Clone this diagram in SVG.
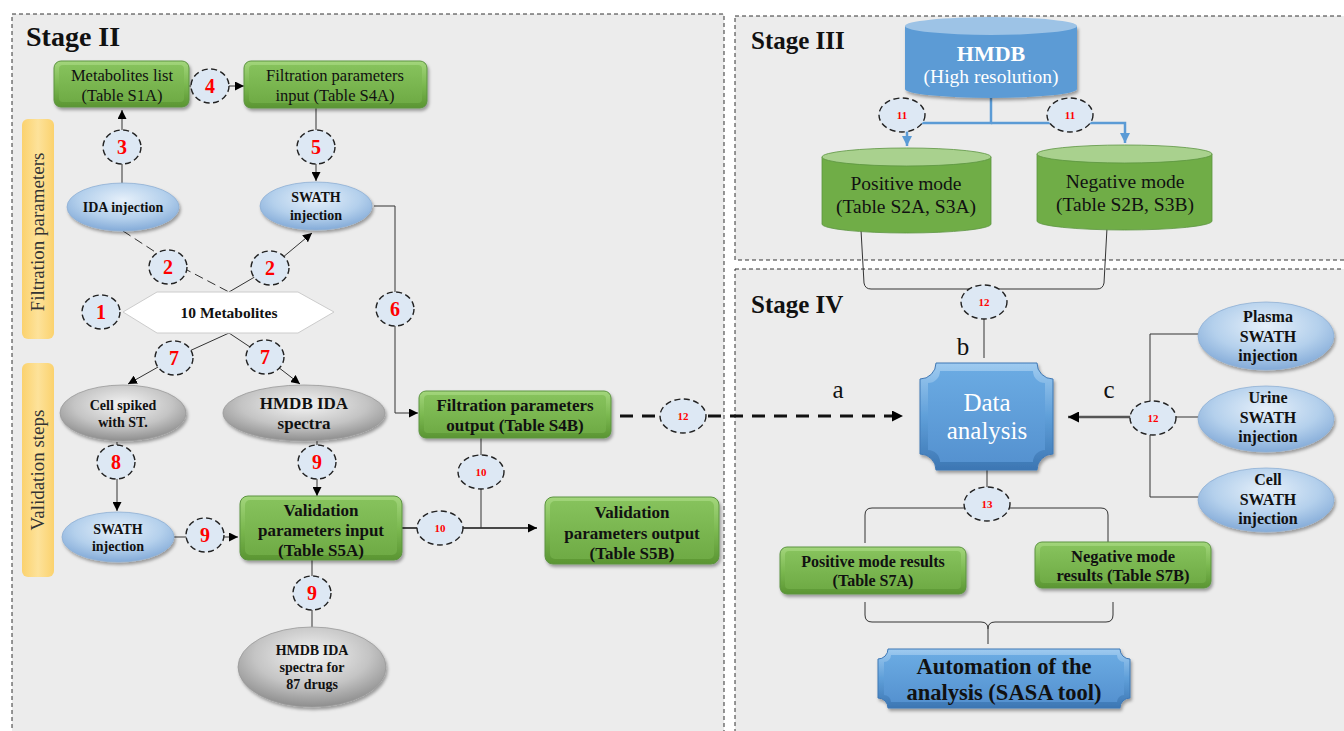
<svg xmlns="http://www.w3.org/2000/svg" width="1344" height="731" viewBox="0 0 1344 731" font-family="'Liberation Serif', serif">
<style>
.panel{fill:#ececec;stroke:#333;stroke-width:1;stroke-dasharray:4 3}
.title{font-family:"Liberation Serif",serif;font-weight:bold;font-size:28px;fill:#111}
.lab{fill:#dde8f4;stroke:#222;stroke-width:1.4;stroke-dasharray:6 3.5}
.num{font-family:"Liberation Serif",serif;font-weight:bold;fill:#f00;text-anchor:middle}
.n1{font-size:20px}.n2{font-size:11px}
.t{font-family:"Liberation Serif",serif;text-anchor:middle;fill:#111}
.b{font-weight:bold}
.conn{stroke:#333;stroke-width:1;fill:none}
.gbox{fill:url(#gGreen);stroke:#5c9440;stroke-width:1;filter:url(#sh)}
.gface{fill:url(#gGreenF)}
.bell{fill:url(#gBlueE);stroke:#8fb0d4;stroke-width:0.8;filter:url(#sh)}
.gell{fill:url(#gGrayE);stroke:#999;stroke-width:0.8;filter:url(#sh)}
.tab{fill:url(#gTab)}
.vt{font-family:"Liberation Serif",serif;font-size:19px;fill:#333;text-anchor:middle}
</style>
<defs>
<linearGradient id="gGreen" x1="0" y1="0" x2="0" y2="1"><stop offset="0" stop-color="#a3d67c"/><stop offset="0.5" stop-color="#7cb951"/><stop offset="1" stop-color="#5a9532"/></linearGradient>
<linearGradient id="gGreenF" x1="0" y1="0" x2="0" y2="1"><stop offset="0" stop-color="#86c25c"/><stop offset="1" stop-color="#6fab45"/></linearGradient>
<radialGradient id="gBlueE" cx="0.5" cy="0.35" r="0.65"><stop offset="0" stop-color="#e6f0fa"/><stop offset="0.6" stop-color="#b4d0ec"/><stop offset="1" stop-color="#84abd8"/></radialGradient>
<radialGradient id="gGrayE" cx="0.5" cy="0.35" r="0.65"><stop offset="0" stop-color="#f4f4f4"/><stop offset="0.6" stop-color="#c4c4c4"/><stop offset="1" stop-color="#8e8e8e"/></radialGradient>
<linearGradient id="gTab" x1="0" y1="0" x2="1" y2="0"><stop offset="0" stop-color="#fbd26e"/><stop offset="0.5" stop-color="#fde29a"/><stop offset="1" stop-color="#fbd26e"/></linearGradient>
<linearGradient id="gPlaque" x1="0" y1="0" x2="0" y2="1"><stop offset="0" stop-color="#9fcbf0"/><stop offset="0.5" stop-color="#5f9fd9"/><stop offset="1" stop-color="#3c76b3"/></linearGradient>
<linearGradient id="gPlaqueF" x1="0" y1="0" x2="0" y2="1"><stop offset="0" stop-color="#6aaae2"/><stop offset="1" stop-color="#5592d0"/></linearGradient>
<filter id="sh" x="-20%" y="-20%" width="140%" height="150%"><feDropShadow dx="1.5" dy="2.5" stdDeviation="1.5" flood-opacity="0.35"/></filter>
<marker id="ar" viewBox="0 0 10 10" refX="10" refY="5" markerWidth="9" markerHeight="9" markerUnits="userSpaceOnUse" orient="auto"><path d="M0,0 L10,5 L0,10 z" fill="#000"/></marker>
<marker id="arB" viewBox="0 0 10 10" refX="10" refY="5" markerWidth="10" markerHeight="10" markerUnits="userSpaceOnUse" orient="auto"><path d="M0,0 L10,5 L0,10 z" fill="#5b9bd5"/></marker>
<marker id="arL" viewBox="0 0 10 10" refX="10" refY="5" markerWidth="11" markerHeight="11" markerUnits="userSpaceOnUse" orient="auto"><path d="M0,0 L10,5 L0,10 z" fill="#000"/></marker>
</defs>
<rect width="1344" height="731" fill="#fff"/>
<g id="panels">
<rect class="panel" x="12" y="14" width="712" height="730"/>
<rect class="panel" x="735" y="16" width="620" height="244"/>
<rect class="panel" x="735" y="269" width="620" height="480"/>
<text class="title" x="26" y="46">Stage II</text>
<text class="title" x="751" y="49" style="font-size:25px">Stage III</text>
<text class="title" x="751" y="313" style="font-size:25px">Stage IV</text>
</g>
<g id="tab-filtration"><rect class="tab" x="22" y="119" width="32" height="220" rx="6"/><text class="vt" transform="translate(44,232) rotate(-90)">Filtration parameters</text></g>
<g id="tab-validation"><rect class="tab" x="22" y="363" width="32" height="214" rx="6"/><text class="vt" transform="translate(44,470) rotate(-90)">Validation steps</text></g>

<g id="connectors">
<path class="conn" d="M122 183 V110" marker-end="url(#ar)"/>
<path class="conn" d="M189 86 H244" marker-end="url(#ar)"/>
<path class="conn" d="M316 108 V181" marker-end="url(#ar)"/>
<path class="conn" d="M374 206 H395 V413 H418" marker-end="url(#ar)"/>
<path class="conn" d="M123 231 L166 259 L229 292" stroke-dasharray="9 5"/>
<path class="conn" d="M229 292 L270 268 L312 233" marker-end="url(#ar)"/>
<path class="conn" d="M229 333 L174 358 L128 384" marker-end="url(#ar)"/>
<path class="conn" d="M229 333 L265 357 L300 384" marker-end="url(#ar)"/>
<path class="conn" d="M117 442 V511" marker-end="url(#ar)"/>
<path class="conn" d="M317 441 V496" marker-end="url(#ar)"/>
<path class="conn" d="M174 537 H238" marker-end="url(#ar)"/>
<path class="conn" d="M312 560 V627"/>
<path class="conn" d="M402 528 H537" marker-end="url(#ar)" style="stroke:#111;stroke-width:1.5"/>
<path class="conn" d="M481 438 V528"/>
<path d="M620 416 H903" fill="none" stroke="#111" stroke-width="3" stroke-dasharray="13 9" marker-end="url(#arL)"/>
<path d="M991 97 V123 H907 V146" fill="none" stroke="#5b9bd5" stroke-width="2.5" marker-end="url(#arB)"/>
<path d="M991 123 H1125 V143" fill="none" stroke="#5b9bd5" stroke-width="2.5" marker-end="url(#arB)"/>
<path class="conn" d="M861 230 L864 283 Q865 289 871 289 H1097 Q1103 289 1104 283 L1107 228"/>
<path class="conn" d="M984 289 V358"/>
<path class="conn" d="M987 470 V490"/>
<path class="conn" d="M865 543 V515 Q865 508 872 508 H1101 Q1108 508 1108 515 V542"/>
<path class="conn" d="M865 602 V615 Q865 622 872 622 H981 Q988 622 988 629 V644 M988 629 Q988 622 995 622 H1106 Q1113 622 1113 615 V602"/>
<path class="conn" d="M1199 334 H1150 V497 H1200 M1153 417 H1198"/>
<path d="M1131 417 H1068" fill="none" stroke="#555" stroke-width="2.5" marker-end="url(#arL)"/>
</g>

<g id="n-metabolites-list"><rect class="gbox" x="54" y="61" width="135" height="46" rx="7"/><rect class="gface" x="59" y="65" width="125" height="37" rx="4"/><text class="t" x="122" y="81" font-size="16.5">Metabolites list</text><text class="t" x="122" y="101" font-size="16.5">(Table S1A)</text></g>
<g id="n-filtration-input"><rect class="gbox" x="244" y="61" width="183" height="47" rx="7"/><rect class="gface" x="249" y="65" width="173" height="38" rx="4"/><text class="t" x="335" y="81" font-size="16.5">Filtration parameters</text><text class="t" x="335" y="101" font-size="16.5">input (Table S4A)</text></g>
<g id="n-ida-injection"><ellipse class="bell" cx="123" cy="207" rx="56" ry="24"/><text class="t b" x="123" y="212" font-size="14">IDA injection</text></g>
<g id="n-swath-injection-1"><ellipse class="bell" cx="316" cy="206" rx="56" ry="24"/><text class="t b" x="316" y="202" font-size="14">SWATH</text><text class="t b" x="316" y="220" font-size="14">injection</text></g>
<g id="n-10-metabolites"><polygon points="123,312 157,292 298,292 334,312 298,333 157,333" fill="#fff" stroke="#ccc" stroke-width="1"/><text class="t b" x="229" y="318" font-size="15.5">10 Metabolites</text></g>
<g id="n-cell-spiked"><ellipse class="gell" cx="123" cy="413" rx="63" ry="28"/><text class="t b" x="123" y="410" font-size="14">Cell spiked</text><text class="t b" x="123" y="427" font-size="14">with ST.</text></g>
<g id="n-hmdb-ida"><ellipse class="gell" cx="304" cy="413" rx="81" ry="28"/><text class="t b" x="304" y="409" font-size="17">HMDB IDA</text><text class="t b" x="304" y="429" font-size="17">spectra</text></g>
<g id="n-swath-injection-2"><ellipse class="bell" cx="118" cy="537" rx="56" ry="25"/><text class="t b" x="118" y="534" font-size="14">SWATH</text><text class="t b" x="118" y="551" font-size="14">injection</text></g>
<g id="n-validation-input"><rect class="gbox" x="240" y="496" width="162" height="64" rx="8"/><rect class="gface" x="245" y="500" width="152" height="55" rx="5"/><text class="t b" x="321" y="516" font-size="17">Validation</text><text class="t b" x="321" y="536" font-size="17">parameters input</text><text class="t b" x="321" y="556" font-size="17">(Table S5A)</text></g>
<g id="n-hmdb-87"><ellipse class="gell" cx="312" cy="667" rx="74" ry="40"/><text class="t b" x="312" y="655" font-size="14">HMDB IDA</text><text class="t b" x="312" y="672" font-size="14">spectra for</text><text class="t b" x="312" y="689" font-size="14">87 drugs</text></g>
<g id="n-filtration-output"><rect class="gbox" x="419" y="391" width="192" height="47" rx="7"/><rect class="gface" x="424" y="395" width="182" height="38" rx="4"/><text class="t b" x="515" y="411" font-size="17">Filtration parameters</text><text class="t b" x="515" y="431" font-size="17">output (Table S4B)</text></g>
<g id="n-validation-output"><rect class="gbox" x="545" y="497" width="174" height="67" rx="8"/><rect class="gface" x="550" y="501" width="164" height="58" rx="5"/><text class="t b" x="632" y="518" font-size="17">Validation</text><text class="t b" x="632" y="539" font-size="17">parameters output</text><text class="t b" x="632" y="559" font-size="17">(Table S5B)</text></g>

<g id="n-hmdb"><path d="M905 26 V89 A86 9 0 0 0 1077 89 V26 Z" fill="#5b9bd5" filter="url(#sh)"/><ellipse cx="991" cy="26" rx="86" ry="9" fill="#9dc3e6"/><text class="t b" x="991" y="61" font-size="22" style="fill:#fff">HMDB</text><text class="t" x="991" y="83" font-size="19.5" style="fill:#fff">(High resolution)</text></g>
<g id="n-positive-mode"><path d="M822 157 V224 A84.5 9 0 0 0 991 224 V157 Z" fill="#70ad47" stroke="#5c9440" stroke-width="0.8"/><ellipse cx="906.5" cy="157" rx="84.5" ry="9" fill="#a9d18e" stroke="#5c9440" stroke-width="0.8"/><text class="t" x="906" y="190" font-size="19.5">Positive mode</text><text class="t" x="906" y="213" font-size="19.5">(Table S2A, S3A)</text></g>
<g id="n-negative-mode"><path d="M1037 154 V221 A87.5 9 0 0 0 1212 221 V154 Z" fill="#70ad47" stroke="#5c9440" stroke-width="0.8"/><ellipse cx="1124.5" cy="154" rx="87.5" ry="9" fill="#a9d18e" stroke="#5c9440" stroke-width="0.8"/><text class="t" x="1125" y="188" font-size="19.5">Negative mode</text><text class="t" x="1125" y="211" font-size="19.5">(Table S2B, S3B)</text></g>
<g id="n-data-analysis"><path d="M936 363 H1037 A16 16 0 0 0 1053 379 V454 A16 16 0 0 0 1037 470 H936 A16 16 0 0 0 920 454 V379 A16 16 0 0 0 936 363 Z" fill="url(#gPlaque)" stroke="#3f78b5" stroke-width="1" filter="url(#sh)"/><path d="M940 371 H1033 A12 12 0 0 0 1045 383 V450 A12 12 0 0 0 1033 462 H940 A12 12 0 0 0 928 450 V383 A12 12 0 0 0 940 371 Z" fill="url(#gPlaqueF)"/><text class="t" x="987" y="411" font-size="25" style="fill:#fff">Data</text><text class="t" x="987" y="439" font-size="25" style="fill:#fff">analysis</text></g>
<g id="n-plasma"><ellipse class="bell" cx="1266" cy="336" rx="68" ry="34"/><text class="t b" x="1268" y="322" font-size="16">Plasma</text><text class="t b" x="1268" y="342" font-size="16">SWATH</text><text class="t b" x="1268" y="361" font-size="16">injection</text></g>
<g id="n-urine"><ellipse class="bell" cx="1266" cy="419" rx="68" ry="33"/><text class="t b" x="1268" y="403" font-size="16">Urine</text><text class="t b" x="1268" y="423" font-size="16">SWATH</text><text class="t b" x="1268" y="442" font-size="16">injection</text></g>
<g id="n-cell"><ellipse class="bell" cx="1266" cy="500" rx="68" ry="32"/><text class="t b" x="1268" y="485" font-size="16">Cell</text><text class="t b" x="1268" y="505" font-size="16">SWATH</text><text class="t b" x="1268" y="524" font-size="16">injection</text></g>
<g id="n-positive-results"><rect class="gbox" x="780" y="547" width="186" height="47" rx="7"/><rect class="gface" x="785" y="551" width="176" height="38" rx="4"/><text class="t b" x="873" y="567" font-size="16">Positive mode results</text><text class="t b" x="873" y="586" font-size="16">(Table S7A)</text></g>
<g id="n-negative-results"><rect class="gbox" x="1035" y="542" width="176" height="46" rx="7"/><rect class="gface" x="1040" y="546" width="166" height="37" rx="4"/><text class="t b" x="1123" y="562" font-size="16.5">Negative mode</text><text class="t b" x="1123" y="581" font-size="16.5">results (Table S7B)</text></g>
<g id="n-automation"><path d="M888 649 H1120 A10 10 0 0 0 1130 659 V698 A10 10 0 0 0 1120 708 H888 A10 10 0 0 0 878 698 V659 A10 10 0 0 0 888 649 Z" fill="url(#gPlaque)" stroke="#3f78b5" stroke-width="1" filter="url(#sh)"/><path d="M891 655 H1117 A7 7 0 0 0 1124 662 V695 A7 7 0 0 0 1117 702 H891 A7 7 0 0 0 884 695 V662 A7 7 0 0 0 891 655 Z" fill="url(#gPlaqueF)"/><text class="t b" x="1004" y="674" font-size="22.5">Automation of the</text><text class="t b" x="1004" y="700" font-size="22.5">analysis (SASA tool)</text></g>

<g id="edge-labels">
<text class="t" x="838" y="398" font-size="25">a</text>
<text class="t" x="963" y="355" font-size="25">b</text>
<text class="t" x="1109" y="398" font-size="25">c</text>
</g>

<g id="step-labels">
<g id="s1"><ellipse class="lab" cx="101" cy="312" rx="19" ry="17"/><text class="num n1" x="101" y="319">1</text></g>
<g id="s2a"><ellipse class="lab" cx="168" cy="267" rx="19" ry="17"/><text class="num n1" x="168" y="274">2</text></g>
<g id="s2b"><ellipse class="lab" cx="270" cy="268" rx="19" ry="17"/><text class="num n1" x="270" y="275">2</text></g>
<g id="s3"><ellipse class="lab" cx="122" cy="147" rx="19" ry="17"/><text class="num n1" x="122" y="154">3</text></g>
<g id="s4"><ellipse class="lab" cx="210" cy="86" rx="19" ry="17"/><text class="num n1" x="210" y="93">4</text></g>
<g id="s5"><ellipse class="lab" cx="316" cy="147" rx="19" ry="17"/><text class="num n1" x="316" y="154">5</text></g>
<g id="s6"><ellipse class="lab" cx="395" cy="309" rx="19" ry="17"/><text class="num n1" x="395" y="316">6</text></g>
<g id="s7a"><ellipse class="lab" cx="174" cy="358" rx="19" ry="17"/><text class="num n1" x="174" y="365">7</text></g>
<g id="s7b"><ellipse class="lab" cx="265" cy="357" rx="19" ry="17"/><text class="num n1" x="265" y="364">7</text></g>
<g id="s8"><ellipse class="lab" cx="116" cy="462" rx="19" ry="17"/><text class="num n1" x="116" y="469">8</text></g>
<g id="s9a"><ellipse class="lab" cx="317" cy="462" rx="19" ry="17"/><text class="num n1" x="317" y="469">9</text></g>
<g id="s9b"><ellipse class="lab" cx="205" cy="535" rx="19" ry="17"/><text class="num n1" x="205" y="542">9</text></g>
<g id="s9c"><ellipse class="lab" cx="312" cy="593" rx="19" ry="17"/><text class="num n1" x="312" y="600">9</text></g>
<g id="s10a"><ellipse class="lab" cx="481" cy="472" rx="23" ry="17"/><text class="num n2" x="481" y="476">10</text></g>
<g id="s10b"><ellipse class="lab" cx="440" cy="528" rx="23" ry="17"/><text class="num n2" x="440" y="532">10</text></g>
<g id="s12a"><ellipse class="lab" cx="683" cy="416" rx="23" ry="17"/><text class="num n2" x="683" y="420">12</text></g>
<g id="s11a"><ellipse class="lab" cx="902" cy="115" rx="23" ry="17"/><text class="num n2" x="902" y="119">11</text></g>
<g id="s11b"><ellipse class="lab" cx="1070" cy="115" rx="23" ry="17"/><text class="num n2" x="1070" y="119">11</text></g>
<g id="s12b"><ellipse class="lab" cx="984" cy="302" rx="23" ry="17"/><text class="num n2" x="984" y="306">12</text></g>
<g id="s12c"><ellipse class="lab" cx="1153" cy="418" rx="23" ry="17"/><text class="num n2" x="1153" y="422">12</text></g>
<g id="s13"><ellipse class="lab" cx="987" cy="504" rx="23" ry="17"/><text class="num n2" x="987" y="508">13</text></g>
</g>
</svg>
